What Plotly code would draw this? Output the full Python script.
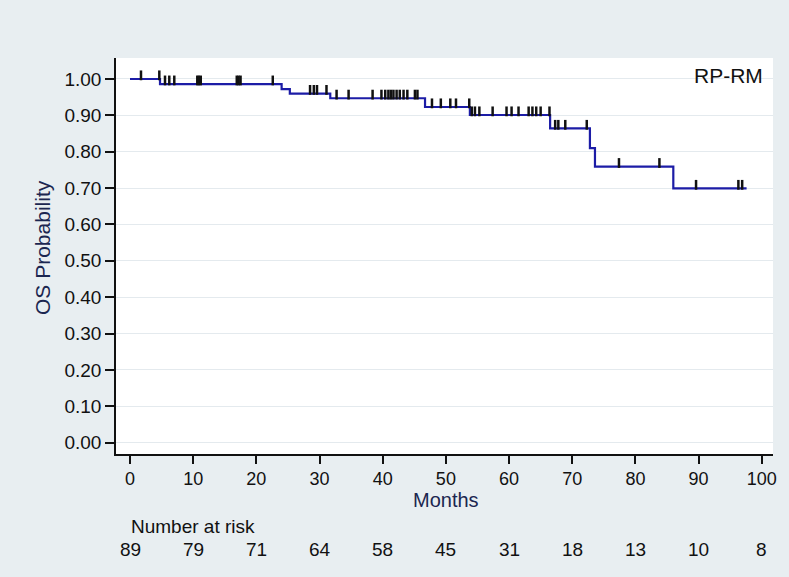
import numpy as np
import plotly.graph_objects as go

# Kaplan-Meier step data (months, survival probability)
step_times = [0, 4.75, 24.0, 25.3, 31.7, 46.7, 53.8, 66.5, 72.8, 73.6, 86.0]
surv = [1.0, 0.986, 0.972, 0.960, 0.947, 0.923, 0.901, 0.864, 0.810, 0.759, 0.699]
end_time = 97.6

# censored observation times (months)
censor_times = [1.74, 4.64, 5.54, 6.22, 7.01, 10.65, 10.9, 11.2, 16.9, 17.2, 17.5, 22.6,
                28.5, 29.1, 29.6, 31.1, 32.7, 34.6, 38.4, 39.8, 40.4, 40.9, 41.3, 41.7,
                42.2, 42.7, 43.3, 43.9, 45.1, 45.5, 47.8, 49.2, 50.7, 51.6, 53.7, 54.1,
                54.6, 55.3, 57.4, 59.6, 60.4, 61.5, 63.1, 63.7, 64.3, 65.0, 66.4, 67.3,
                67.8, 68.9, 72.3, 77.4, 83.8, 89.6, 96.3, 96.9]

# number at risk table
risk_times = [0, 10, 20, 30, 40, 50, 60, 70, 80, 90, 100]
risk_counts = [89, 79, 71, 64, 58, 45, 31, 18, 13, 10, 8]

x_ticks = list(range(0, 101, 10))
y_ticks = [i / 10 for i in range(0, 11)]

FONT = "Liberation Sans, Arial, sans-serif"
CURVE = "#1c1ca6"
TITLE_COL = "#1b2650"
BG = "#e8eef1"

idx = np.searchsorted(step_times, censor_times, side="right") - 1
censor_y = [surv[i] + 0.010 for i in idx]

fig = go.Figure()
fig.add_trace(go.Scatter(
    x=step_times + [end_time], y=surv + [surv[-1]],
    mode="lines", line=dict(color=CURVE, width=2.2, shape="hv"),
    hoverinfo="skip", showlegend=False))
fig.add_trace(go.Scatter(
    x=censor_times, y=censor_y, mode="markers",
    marker=dict(symbol="line-ns", size=7, line=dict(color="#111111", width=2.5)),
    showlegend=False))

annotations = [
    dict(text="RP-RM", xref="paper", yref="paper", x=(765 - 116) / 657, y=(454 - 75) / 396,
         xanchor="right", yanchor="middle", showarrow=False,
         font=dict(family=FONT, size=21, color="#111111")),
    dict(text="Months", xref="x", yref="paper", x=50, y=(454 - 500) / 396,
         xanchor="center", yanchor="middle", showarrow=False,
         font=dict(family=FONT, size=20, color=TITLE_COL)),
    dict(text="OS Probability", xref="paper", yref="paper", x=(42 - 116) / 657,
         y=(454 - 248) / 396, textangle=-90, xanchor="center", yanchor="middle",
         showarrow=False, font=dict(family=FONT, size=21, color=TITLE_COL)),
    dict(text="Number at risk", xref="paper", yref="paper", x=(129 - 116) / 657,
         y=(454 - 526) / 396, xanchor="left", yanchor="middle", showarrow=False,
         font=dict(family=FONT, size=19, color="#111111")),
]
for t, n in zip(risk_times, risk_counts):
    annotations.append(dict(text=str(n), xref="x", yref="paper", x=t, y=(454 - 549) / 396,
                            xanchor="center", yanchor="middle", showarrow=False,
                            font=dict(family=FONT, size=19, color="#111111")))

fig.update_layout(
    width=789, height=577,
    margin=dict(l=116, r=16, t=58, b=123),
    paper_bgcolor=BG, plot_bgcolor="#ffffff",
    font=dict(family=FONT, size=19, color="#111111"),
    showlegend=False,
    annotations=annotations,
    xaxis=dict(range=[-2.216, 101.78], tickvals=x_ticks, ticks="outside", ticklen=8,
               tickwidth=1.5, tickcolor="#111111", showline=True, linecolor="#111111",
               linewidth=1.5, showgrid=False, zeroline=False,
               tickfont=dict(family=FONT, size=18, color="#111111")),
    yaxis=dict(range=[-0.0311, 1.0577], tickvals=y_ticks, tickformat=".2f", ticks="outside",
               ticklen=9, tickwidth=1.5, tickcolor="#111111", showline=True,
               linecolor="#111111", linewidth=1.5, showgrid=True, gridcolor="#e4eaee",
               gridwidth=1, zeroline=False,
               tickfont=dict(family=FONT, size=19, color="#111111")),
)

fig.write_html(
    "out.html",
    config={"displayModeBar": False},
    post_script="document.body.style.margin='0';document.body.style.background='" + BG + "';",
)
